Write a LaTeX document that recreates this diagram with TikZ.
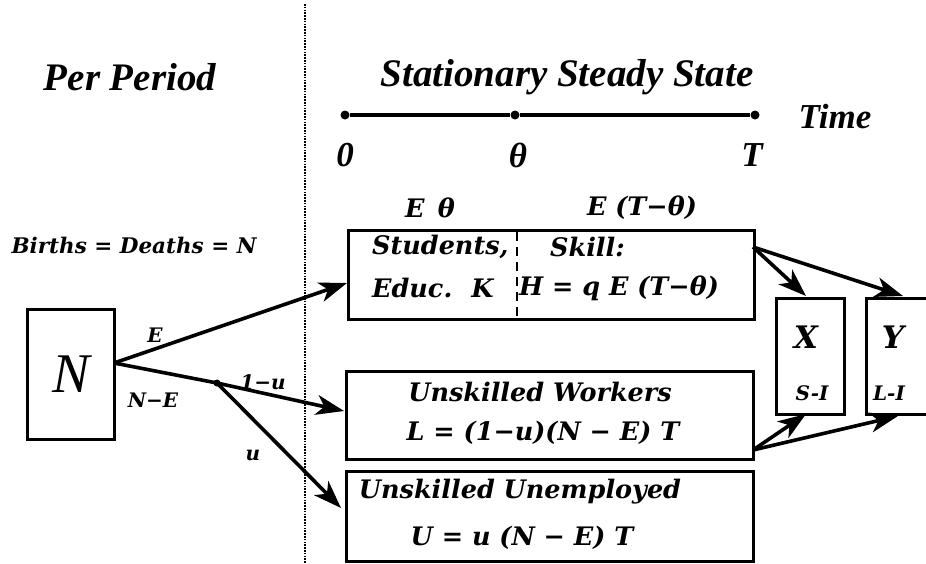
\documentclass[tikz,border=0pt]{standalone}
\usepackage{fontspec}
\setmainfont{Liberation Serif}
\newfontfamily\boxfont{DejaVu Serif}
\usetikzlibrary{arrows.meta}
\begin{document}
\begin{tikzpicture}[x=1pt,y=-1pt,
  frame/.style={draw,line width=3pt,inner sep=0pt,anchor=north west},
  arr/.style={-{Stealth[length=28pt,width=20pt,inset=8pt]},line width=3.6pt},
  hdr/.style={inner sep=0pt,font=\fontsize{39}{41}\selectfont\bfseries\itshape},
  tl/.style={inner sep=0pt,font=\fontsize{35}{37}\selectfont\bfseries\itshape},
  bt/.style={inner sep=0pt,font=\boxfont\fontsize{25.5}{28}\selectfont\bfseries\itshape},
  lbl/.style={inner sep=0pt,font=\boxfont\fontsize{20}{22}\selectfont\bfseries\itshape},
  big/.style={inner sep=0pt,font=\boxfont\fontsize{31}{33}\selectfont\bfseries\itshape},
  sml/.style={inner sep=0pt,font=\boxfont\fontsize{20}{22}\selectfont\bfseries\itshape},
  tdot/.style={circle,fill,inner sep=0pt,minimum size=9pt},
  bdot/.style={circle,fill,inner sep=0pt,minimum size=7pt}]
\useasboundingbox (0,0) rectangle (926,563);
\clip (0,0) rectangle (926,563);
\fill[white] (0,0) rectangle (926,563);

% divider
\coordinate (dtop) at (305,4);
\coordinate (dbot) at (305,563);
\draw[line width=2.4pt,dash pattern=on 1.6pt off 1.2pt] (dtop) -- (dbot);

% headers
\node[hdr] (pp) at (130,77) {Per Period};
\node[hdr] (sss) at (567,77) {Stationary Steady State};

% timeline
\node[tdot] (t0) at (345,115) {};
\node[tdot] (tth) at (515,115) {};
\node[tdot] (tT) at (755,115) {};
\draw[line width=3.4pt] (t0) -- (tth) -- (tT);
\node[tl] (time) at (835,117) {Time};
\node[tl] (l0) at (345,155) {0};
\node[tl] (lth) at (518,155) {θ};
\node[tl] (lT) at (752,155) {T};

% boxes
\node[frame,minimum width=87pt,minimum height=130pt] (N) at (26,308) {};
\node[inner sep=0pt,font=\fontsize{56}{58}\selectfont\itshape] (Nt) at (N.center) {N};
\node[frame,minimum width=406pt,minimum height=89pt] (top) at (347,229) {};
\node[frame,minimum width=407pt,minimum height=88pt] (mid) at (345,370) {};
\node[frame,minimum width=407pt,minimum height=90pt] (bot) at (345,470) {};
\node[frame,minimum width=68pt,minimum height=116pt] (X) at (775,297) {};
\node[frame,minimum width=75pt,minimum height=116pt] (Y) at (865,297) {};

% dashed divider in top box
\coordinate (dv1) at (517,232);
\coordinate (dv2) at (517,316);
\draw[line width=2.4pt,dash pattern=on 9pt off 6pt] (dv1) -- (dv2);

% texts
\node[bt] (eth) at (430,208) {E\, θ};
\node[bt] (etth) at (642,208) {E (T−θ)};
\node[lbl,font=\boxfont\fontsize{21.5}{24}\selectfont\bfseries\itshape] (bdn) at (134,245) {Births = Deaths = N};
\node[bt,anchor=west] (stu) at (372,247) {Students,};
\node[bt,anchor=west] (edu) at (372,288) {Educ.\; K};
\node[bt,anchor=west] (ski) at (550,247) {Skill:};
\node[bt,anchor=west] (hq) at (519,288) {H = q E (T−θ)};
\node[bt] (uw) at (540,392) {Unskilled Workers};
\node[bt] (lf) at (543,433) {L = (1−u)(N − E) T};
\node[bt] (uu) at (520,492) {Unskilled Unemployed};
\node[bt] (uf) at (522,538) {U = u (N − E) T};
\node[big] (Xt) at (806,337) {X};
\node[sml] (si) at (812,393) {S-I};
\node[big] (Yt) at (893,337) {Y};
\node[sml] (li) at (889,393) {L-I};

% flow labels
\node[lbl] (lE) at (155,335) {E};
\node[lbl] (lNE) at (153,400) {N−E};
\node[lbl] (l1u) at (263,382) {1−u};
\node[lbl] (lu) at (253,455) {u};

% connectors
\coordinate (src) at (114,363);
\node[bdot] (br) at (217,383) {};
\coordinate (topin) at (347,283);
\coordinate (midin) at (344,411);
\coordinate (botin) at (341,508);
\draw[arr] (src) -- (topin);
\draw[line width=3.6pt] (src) -- (br.center);
\draw[arr] (br.center) -- (midin);
\draw[arr] (br.center) -- (botin);

\coordinate (topout) at (753,247);
\coordinate (midout) at (753,450);
\coordinate (xtop) at (806,296);
\coordinate (ytop) at (903,296);
\coordinate (xbot) at (806,414);
\coordinate (ybot) at (898,416);
\draw[arr] (topout) -- (xtop);
\draw[arr] (topout) -- (ytop);
\draw[arr] (midout) -- (xbot);
\draw[arr] (midout) -- (ybot);
\end{tikzpicture}
\end{document}
